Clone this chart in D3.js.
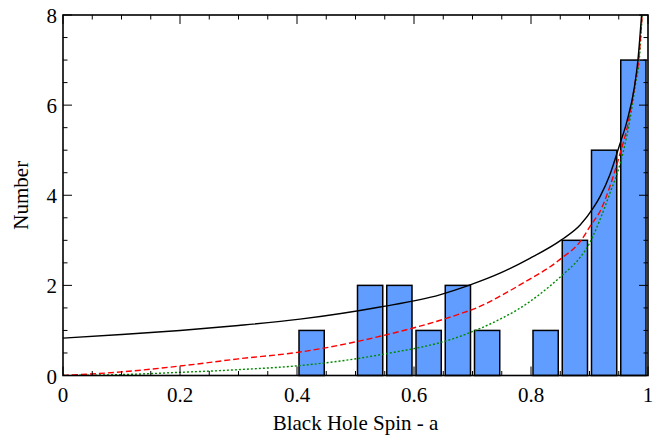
<!DOCTYPE html>
<html><head><meta charset="utf-8">
<script src="https://cdn.jsdelivr.net/npm/d3@7"></script>
<style>body{margin:0;background:#fff}svg{display:block}text{font-family:"Liberation Serif","Times New Roman",serif;fill:#000}</style>
</head><body><svg id="c" width="659" height="436"></svg>
<script>
// histogram bins (left edge), bin width 0.05
const binStarts = [0.40, 0.50, 0.55, 0.60, 0.65, 0.70, 0.80, 0.85, 0.90, 0.95];
const counts    = [1, 2, 2, 1, 2, 1, 1, 3, 5, 7];
const binWidth = 0.05;
// model curves
const blackA = [0,0.1,0.2,0.3,0.405,0.542,0.644,0.696,0.747,0.798,0.852,0.884,0.907,0.918,0.935,0.951,0.964,0.977,0.983,0.989];
const blackN = [0.83,0.91,1.0,1.11,1.25,1.52,1.79,2.01,2.27,2.60,3.01,3.34,3.73,3.97,4.46,5.1,5.64,6.42,7.03,8.0];
const redA = [0,0.1,0.2,0.3,0.405,0.542,0.679,0.707,0.747,0.781,0.852,0.884,0.903,0.918,0.935,0.951,0.966,0.978,0.984,0.99];
const redN = [0,0.08,0.21,0.37,0.52,0.87,1.37,1.50,1.76,2.01,2.60,2.97,3.35,3.64,4.2,4.87,5.6,6.5,7.0,8.0];
const greenA = [0,0.1,0.2,0.3,0.405,0.542,0.679,0.747,0.778,0.852,0.884,0.895,0.918,0.935,0.951,0.968,0.979,0.985,0.99];
const greenN = [0,0.02,0.07,0.13,0.22,0.46,0.87,1.25,1.47,2.21,2.62,2.82,3.46,4.05,4.64,5.6,6.5,7.0,8.0];
const xTicks = [0, 0.2, 0.4, 0.6, 0.8, 1];
const yTicks = [0, 2, 4, 6, 8];

const L = 63, R = 648, T = 15, B = 375.5;
const svg = d3.select("#c");
const x = d3.scaleLinear().domain([0, 1]).range([L, R]);
const y = d3.scaleLinear().domain([0, 8]).range([B, T]);

svg.append("defs").append("clipPath").attr("id","clip")
  .append("rect").attr("x",L).attr("y",T).attr("width",R-L).attr("height",B-T);

// bars
const inset = 2;
svg.append("g").selectAll("rect").data(binStarts).join("rect")
  .attr("x", (d) => x(d) + inset)
  .attr("width", (d) => x(d + binWidth) - x(d) - 2*inset)
  .attr("y", (d,i) => y(counts[i]))
  .attr("height", (d,i) => y(0) - y(counts[i]))
  .attr("fill", "#619cff").attr("stroke", "#000").attr("stroke-width", 1.5);

// curves
const line = d3.line().x(d => x(d[0])).y(d => y(d[1])).curve(d3.curveMonotoneX);
const cg = svg.append("g").attr("clip-path","url(#clip)");
cg.append("path").datum(greenA.map((a,i)=>[a,greenN[i]])).attr("d", line)
  .attr("fill","none").attr("stroke","#008a00").attr("stroke-width",1.4).attr("stroke-dasharray","2,2");
cg.append("path").datum(redA.map((a,i)=>[a,redN[i]])).attr("d", line)
  .attr("fill","none").attr("stroke","#ff0000").attr("stroke-width",1.4).attr("stroke-dasharray","6,3");
cg.append("path").datum(blackA.map((a,i)=>[a,blackN[i]])).attr("d", line)
  .attr("fill","none").attr("stroke","#000").attr("stroke-width",1.4);

// ticks (inward, on all four sides)
const tg = svg.append("g").attr("stroke","#000").attr("stroke-width",1);
const xMinor = d3.range(0, 1.0001, 0.05);
xMinor.forEach(v => {
  const major = xTicks.some(t => Math.abs(t - v) < 1e-6);
  const len = major ? 9 : 4.5;
  tg.append("line").attr("x1",x(v)).attr("x2",x(v)).attr("y1",B).attr("y2",B-len);
  tg.append("line").attr("x1",x(v)).attr("x2",x(v)).attr("y1",T).attr("y2",T+len);
});
const yMinor = d3.range(0, 8.0001, 0.5);
yMinor.forEach(v => {
  const major = yTicks.some(t => Math.abs(t - v) < 1e-6);
  const len = major ? 9 : 4.5;
  tg.append("line").attr("y1",y(v)).attr("y2",y(v)).attr("x1",L).attr("x2",L+len);
  tg.append("line").attr("y1",y(v)).attr("y2",y(v)).attr("x1",R).attr("x2",R-len);
});

// frame
svg.append("rect").attr("x",L).attr("y",T).attr("width",R-L).attr("height",B-T)
  .attr("fill","none").attr("stroke","#000").attr("stroke-width",1.6);

// tick labels
svg.append("g").selectAll("text").data(xTicks).join("text")
  .attr("x", d => x(d)).attr("y", 402).attr("text-anchor","middle")
  .attr("font-size", 21).text(d => d3.format("")(d));
svg.append("g").selectAll("text").data(yTicks).join("text")
  .attr("x", 57).attr("y", d => y(d) + 8).attr("text-anchor","end")
  .attr("font-size", 21).text(d => d);

// axis titles
svg.append("text").attr("x",(L+R)/2).attr("y",430).attr("text-anchor","middle")
  .attr("font-size",21).text("Black Hole Spin - a");
svg.append("text").attr("transform",`translate(28,${(T+B)/2}) rotate(-90)`)
  .attr("text-anchor","middle").attr("font-size",21).text("Number");
</script></body></html>
